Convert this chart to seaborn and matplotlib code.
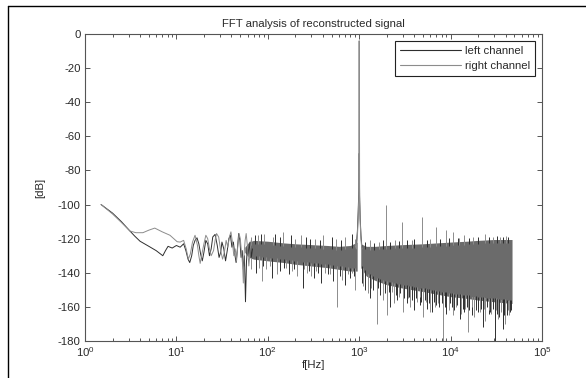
import numpy as np
import pandas as pd
import matplotlib
matplotlib.use("Agg")
import matplotlib.pyplot as plt
from matplotlib.lines import Line2D
from matplotlib.ticker import FixedLocator, FixedFormatter, LogLocator, NullFormatter
import seaborn as sns

# ---------------- data ----------------
left_f = [1.5, 2, 2.5, 3.1, 3.5, 4, 5, 6, 7.1, 7.6, 8.1, 9, 10, 11, 12, 12.7, 13.4, 14, 14.7,
          15.3, 16, 16.8, 17.6, 18.4, 19.2, 20, 21, 22, 23, 24, 25, 26.5, 28, 29.3, 30.5, 31.5,
          33, 34.5, 36, 37.5, 39, 40.5, 42, 43.5, 45, 46.5, 48, 49.5, 51, 52.5, 54, 55.5, 57,
          58.5, 60, 62, 64, 66, 68]
left_db = [-100, -105, -110, -115.5, -118.5, -121.5, -124.5, -127, -130, -127, -124.5, -125.5,
           -124, -125, -123, -127, -132, -134, -130, -124, -121, -119.5, -123, -129, -133, -128,
           -121, -123, -130, -126, -119, -117.5, -124, -131, -128, -122, -126, -133, -127, -120,
           -118, -125, -122, -129, -134, -126, -117, -121, -131, -127, -138, -130, -157, -133,
           -124, -129, -122, -131, -126]

right_f = [1.5, 2, 2.5, 3.1, 3.6, 4.3, 5, 5.8, 7, 8.5, 10.2, 11, 12, 12.8, 13.5, 14.2, 15, 16,
           17, 17.6, 18.2, 19, 20, 21, 22, 23, 24, 25.5, 26.5, 27.5, 29, 30.5, 32, 33.5, 35,
           36.5, 38, 39.5, 41, 42.5, 44, 45.5, 47, 48.5, 50, 51.5, 53, 54, 55, 56.5, 58, 60, 62,
           64, 66]
right_db = [-100, -105.5, -110.5, -115.5, -116.5, -116.5, -115, -113.8, -116, -118, -121.8,
            -122, -121, -126, -132, -129, -122, -118, -124, -130, -134.5, -129, -123, -118,
            -120, -126, -130, -127, -121, -117, -119, -127, -132, -128, -121, -125, -119, -116,
            -122, -130, -126, -133, -124, -117, -120, -128, -135, -146, -129, -121, -117, -125,
            -136, -127, -121]

# dense noise floor: envelope of the solid band
band1_f = [56, 62, 70, 100, 150, 200, 300, 450, 600, 800, 950]
band1_top = [-125, -122, -121, -121.5, -122.5, -123, -123.5, -124, -124.5, -124, -122]
band1_bot = [-128, -131, -132, -133, -134, -135, -136, -137, -138, -139, -139]
band2_f = [1040, 1200, 1500, 2000, 3000, 5000, 7000, 10000, 15000, 20000, 30000, 47000]
band2_top = [-123, -124.5, -124.5, -124, -123.5, -123, -122.5, -122, -121.5, -121, -120.5, -120.5]
band2_bot = [-137, -142, -144.5, -147, -149, -151, -152.5, -154, -155, -156, -157, -158]

# spikes below the band
left_dn_f = [75, 88, 110, 135, 150, 170, 195, 240, 280, 320, 350, 380, 450, 520, 610, 700, 790,
             880, 1080, 1150, 1300, 1400, 1600, 1700, 1900, 2100, 2200, 2500, 2600, 2800, 3100,
             3300, 3500, 3800, 4000, 4200, 4600, 4800, 5200, 5500, 5800, 6300, 6600, 7000,
             7500, 8000, 8600, 9000, 9800, 10400, 11000, 11800, 12700, 13500, 14000, 15000,
             16000, 17000, 18000, 19000, 20000, 21500, 22600, 24000, 25000, 26000, 27000,
             29000, 30600, 32000, 34000, 36000, 37000, 38500, 41000, 43000, 45000, 46000]
left_dn_db = [-140, -136, -143, -139, -137, -141, -138, -149, -139, -143, -140, -146, -141,
              -145, -142, -147, -143, -142, -146, -150, -155, -150, -149, -153, -152, -151,
              -160, -153, -156, -152, -155, -158, -154, -156, -162, -155, -159, -157, -156,
              -161, -158, -163, -157, -159, -160, -158, -160, -164, -158, -160, -162, -159,
              -167, -161, -163, -160, -162, -165, -160, -162, -163, -161, -172, -162, -160,
              -164, -163, -161, -180, -164, -166, -162, -173, -165, -165, -161, -163, -162]
right_dn_f = [66, 80, 86, 95, 105, 125, 160, 185, 210, 250, 270, 300, 340, 420, 480, 570, 650,
              760, 840, 900, 1100, 1250, 1350, 1570, 1800, 1990, 2300, 2400, 2700, 3000, 3400,
              3600, 4300, 4600, 5000, 5400, 6000, 6800, 7300, 8300, 9500, 10500, 11500, 13000,
              14500, 15500, 17000, 18000, 21000, 23000, 24000, 26500, 28000, 31000, 33000,
              35500, 39000, 42000, 44000]
right_dn_db = [-138, -137, -145, -138, -136, -141, -137, -139, -142, -138, -140, -142, -139,
               -140, -141, -160, -144, -141, -140, -150, -148, -152, -149, -170, -156, -165,
               -151, -158, -154, -163, -155, -160, -157, -154, -166, -157, -163, -160, -158,
               -180, -162, -165, -160, -164, -161, -174.5, -160, -166, -163, -161, -168, -162,
               -164, -162, -167, -163, -170, -162, -165]

# spikes above the band
right_up_f = [66, 78, 90, 115, 147, 200, 230, 330, 400, 560, 700, 900, 1300, 1650, 1960, 2450,
              2930, 3800, 4900, 6000, 6900, 8900, 10600, 12500, 14000, 17500, 24000, 29000,
              35000, 40000]
right_up_db = [-119, -118, -117, -119, -116, -120, -118, -120, -118, -120, -119, -120, -121,
               -122, -100, -121, -110, -121, -107.5, -120, -113, -115, -116, -119.5, -118, -119,
               -117, -119, -119, -118.5]
left_up_f = [72, 84, 120, 135, 180, 260, 290, 370, 500, 640, 830, 1150, 1450, 1800, 2200,
             2700, 3300, 4000, 5500, 7600, 9500, 12000, 16000, 20000, 26000, 32000, 37000, 42000]
left_up_db = [-118, -117, -117, -119, -118, -119, -120, -121, -119, -121, -117, -122, -122.5,
              -121, -122, -121.5, -121, -120, -120.5, -120, -119.5, -119.5, -119.5, -119,
              -119, -118.5, -119, -119]

# 1 kHz test tone
peak_f = [930, 955, 975, 990, 1000, 1010, 1025, 1045, 1070]
peak_right = [-126, -118, -108, -96, -4, -98, -110, -120, -126]
peak_left = [-124, -116, -104, -92, -70, -95, -108, -118, -125]

x_ticks = [1, 10, 100, 1000, 10000, 100000]
x_labels = ["$10^{0}$", "$10^{1}$", "$10^{2}$", "$10^{3}$", "$10^{4}$", "$10^{5}$"]
y_ticks = [-180, -160, -140, -120, -100, -80, -60, -40, -20, 0]
y_labels = ["-180", "-160", "-140", "-120", "-100", "-80", "-60", "-40", "-20", "0"]

title = "FFT analysis of reconstructed signal"
series_names = ["left channel", "right channel"]

# ---------------- style ----------------
sns.set_style("ticks")
plt.rcParams["font.family"] = ["Liberation Sans", "DejaVu Sans"]
plt.rcParams["mathtext.fontset"] = "custom"
plt.rcParams["mathtext.rm"] = "Liberation Sans"
plt.rcParams["mathtext.default"] = "regular"
plt.rcParams["axes.unicode_minus"] = False

c_left = "#2e2e2e"
c_right = "#8c8c8c"
c_band = "#6b6b6b"
c_text = "#2a2a2a"
c_spine = "#555555"
fs = 8.2

fig = plt.figure(figsize=(5.86, 3.78), dpi=100)
fig.patch.set_facecolor("white")
ax = fig.add_axes([85 / 586, 1 - 341 / 378, (542 - 85) / 586, (341 - 34) / 378])

# band
ax.fill_between(band1_f, band1_top, band1_bot, color=c_band, lw=0, zorder=1)
ax.fill_between(band2_f, band2_top, band2_bot, color=c_band, lw=0, zorder=1)

all_f = np.log10(band1_f + band2_f)
all_top = band1_top + band2_top
all_bot = band1_bot + band2_bot

# spikes
b1 = np.interp(np.log10(left_dn_f), all_f, all_bot)
ax.vlines(left_dn_f, np.minimum(left_dn_db, b1 - 1), b1 + 2, colors=c_left, lw=0.7, zorder=2)
b2 = np.interp(np.log10(right_dn_f), all_f, all_bot)
ax.vlines(right_dn_f, np.minimum(right_dn_db, b2 - 1), b2 + 2, colors=c_right, lw=0.7, zorder=2)
t1 = np.interp(np.log10(right_up_f), all_f, all_top)
ax.vlines(right_up_f, t1 - 2, right_up_db, colors=c_right, lw=0.7, zorder=2)
t2 = np.interp(np.log10(left_up_f), all_f, all_top)
ax.vlines(left_up_f, t2 - 2, left_up_db, colors=c_left, lw=0.7, zorder=2)

# low-frequency curves via seaborn
df = pd.DataFrame({
    "f": left_f + right_f,
    "dB": left_db + right_db,
    "channel": [series_names[0]] * len(left_f) + [series_names[1]] * len(right_f),
})
sns.lineplot(data=df, x="f", y="dB", hue="channel", hue_order=series_names,
             palette={series_names[0]: c_left, series_names[1]: c_right},
             estimator=None, sort=False, lw=0.7, ax=ax, zorder=3, legend=False)

# 1 kHz peak
ax.plot(peak_f, peak_left, color=c_left, lw=0.7, zorder=4)
ax.plot(peak_f, peak_right, color=c_right, lw=0.8, zorder=5)

# axes
ax.set_xscale("log")
ax.set_xlim(1, 1e5)
ax.set_ylim(-180, 0)
ax.xaxis.set_major_locator(FixedLocator(x_ticks))
ax.xaxis.set_major_formatter(FixedFormatter(x_labels))
ax.xaxis.set_minor_locator(LogLocator(base=10, subs=np.arange(2, 10)))
ax.xaxis.set_minor_formatter(NullFormatter())
ax.yaxis.set_major_locator(FixedLocator(y_ticks))
ax.yaxis.set_major_formatter(FixedFormatter(y_labels))
ax.tick_params(which="both", direction="in", top=True, right=True, colors=c_spine,
               labelcolor=c_text, labelsize=fs, width=0.7)
ax.tick_params(which="major", length=3.5, pad=3)
ax.tick_params(which="minor", length=2)
for s in ax.spines.values():
    s.set_color(c_spine)
    s.set_linewidth(0.8)
    s.set_visible(True)

ax.set_title(title, fontsize=fs, color=c_text, pad=5)
ax.set_xlabel("f[Hz]", fontsize=fs, color=c_text, labelpad=1)
ax.set_ylabel("[dB]", fontsize=fs, color=c_text, labelpad=9)

handles = [Line2D([], [], color=c_left, lw=0.8), Line2D([], [], color=c_right, lw=0.8)]
leg = ax.legend(handles, series_names, loc="upper right", fontsize=fs, frameon=True,
                fancybox=False, framealpha=1, edgecolor="#222222", handlelength=5.4,
                handletextpad=0.3, borderaxespad=0.6, borderpad=0.45, labelspacing=0.45)
leg.get_frame().set_linewidth(0.8)
for t in leg.get_texts():
    t.set_color(c_text)

# figure frame lines (left & top)
fig.add_artist(Line2D([7.5 / 586, 7.5 / 586], [0, 1 - 5.5 / 378], color="black", lw=1.0,
                      transform=fig.transFigure))
fig.add_artist(Line2D([7.5 / 586, 1], [1 - 5.5 / 378, 1 - 5.5 / 378], color="black", lw=1.0,
                      transform=fig.transFigure))

fig.savefig("out.png", dpi=100)
